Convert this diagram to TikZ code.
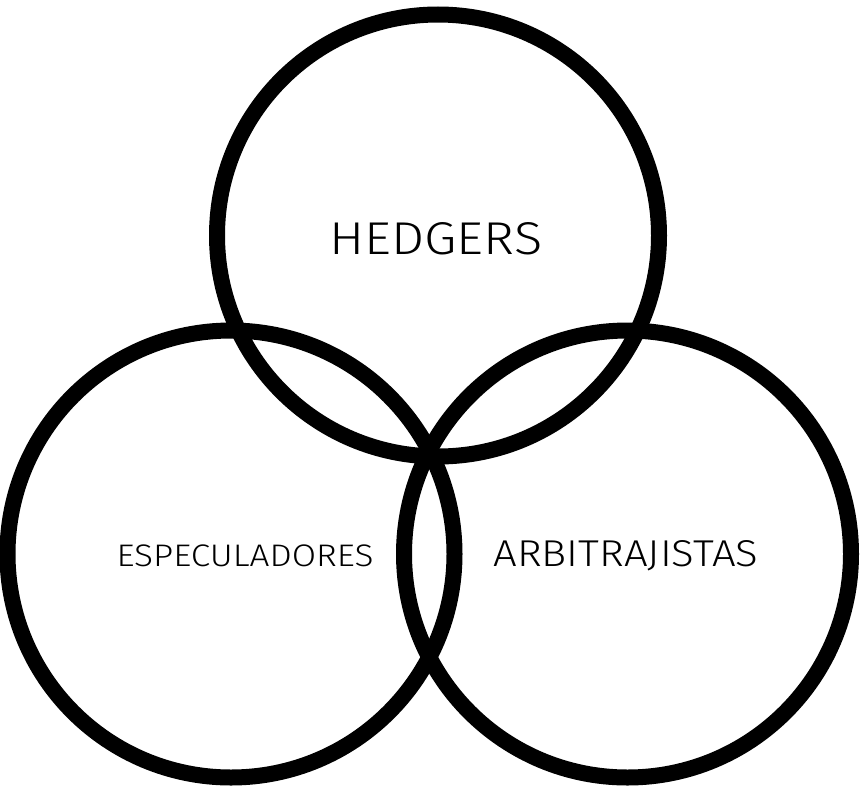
\documentclass[tikz,border=0pt]{standalone}
\usepackage{fontspec}
\usepackage{graphicx}
\setmainfont{Fira Sans Light}
\begin{document}
\begin{tikzpicture}[x=1pt,y=-1pt,
  ring/.style={circle, draw=black, line width=16pt, minimum size=#1, inner sep=0pt},
  lbl/.style={font=\fontsize{30}{30}\selectfont, inner sep=0pt}]
\useasboundingbox (0,0) rectangle (861,787);
\node[ring=442pt] (top) at (438,235.5) {};
\node[ring=447pt] (left) at (231,554) {};
\node[ring=447pt] (right) at (627.5,554) {};
\node[lbl] (hedgers) at (436,238.3) {\resizebox{213pt}{32pt}{HEDGERS}};
\node[lbl] (esp) at (245,556) {\resizebox{257pt}{21.7pt}{ESPECULADORES}};
\node[lbl] (arb) at (626,555.3) {\resizebox{265pt}{26pt}{ARBITRAJISTAS}};
\end{tikzpicture}
\end{document}
